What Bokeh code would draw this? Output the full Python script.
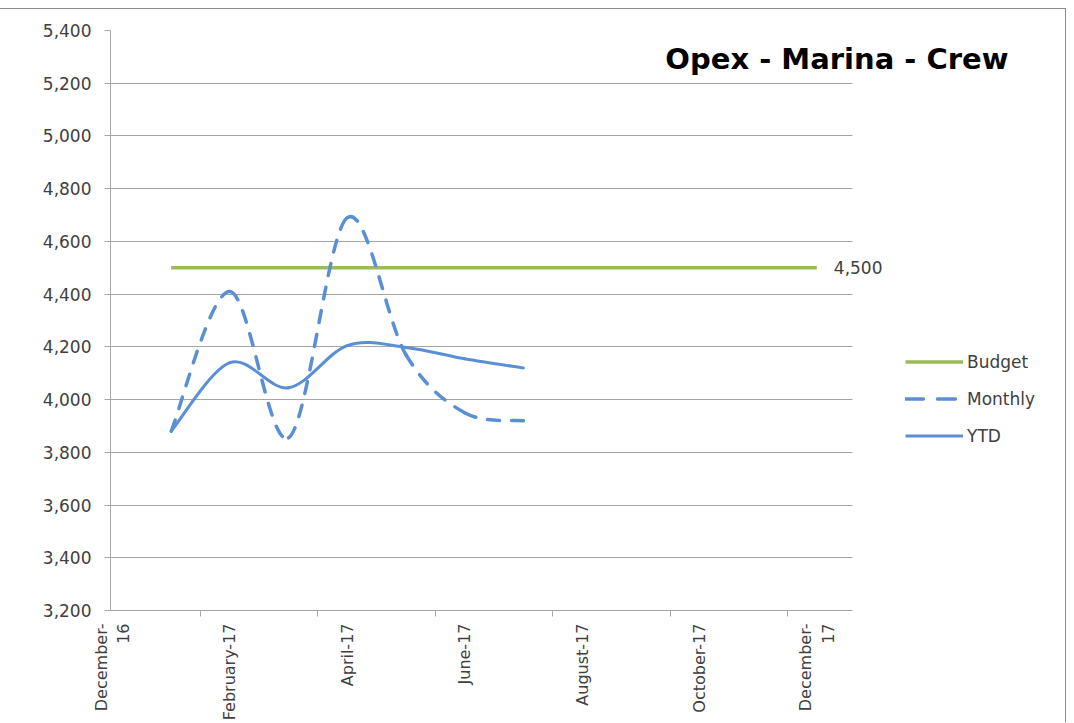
import math
from bokeh.plotting import figure
from bokeh.models import (FixedTicker, NumeralTickFormatter, Legend, LegendItem,
                          Label, ColumnDataSource, Range1d)
from bokeh.core.properties import value
from bokeh.embed import file_html
from bokeh.resources import INLINE

# ---------------- data ----------------
tick_pos = [0, 2, 4, 6, 8, 10, 12]
tick_labels = ["December-\n16", "February-17", "April-17", "June-17",
               "August-17", "October-17", "December-\n17"]
budget_x = [1, 2, 3, 4, 5, 6, 7, 8, 9, 10, 11, 12]          # Jan-17 .. Dec-17
budget = [4500] * 12
actual_x = [1, 2, 3, 4, 5, 6, 7]                            # Jan-17 .. Jul-17
monthly = [3880, 4410, 3855, 4690, 4170, 3950, 3920]
ytd = [3880, 4140, 4045, 4205, 4198, 4155, 4120]

FONT = "DejaVu Sans"
TXT = "#404040"
GRID = "#a6a6a6"
GREEN = "#9bbb59"
BLUE = "#5a8fd6"

X0, X_AXIS_END, X1 = -0.034, 12.61, 16.22


def smooth_source(xs, ys):
    """Excel-like smoothed line: cubic bezier control points (Catmull-Rom)."""
    n = len(xs)
    d = dict(x0=[], y0=[], x1=[], y1=[], cx0=[], cy0=[], cx1=[], cy1=[])
    for i in range(n - 1):
        xp, yp = (xs[i - 1], ys[i - 1]) if i > 0 else (xs[i], ys[i])
        xn, yn = (xs[i + 2], ys[i + 2]) if i + 2 < n else (xs[i + 1], ys[i + 1])
        d["x0"].append(xs[i]); d["y0"].append(ys[i])
        d["x1"].append(xs[i + 1]); d["y1"].append(ys[i + 1])
        d["cx0"].append(xs[i] + (xs[i + 1] - xp) / 6)
        d["cy0"].append(ys[i] + (ys[i + 1] - yp) / 6)
        d["cx1"].append(xs[i + 1] - (xn - xs[i]) / 6)
        d["cy1"].append(ys[i + 1] - (yn - ys[i]) / 6)
    return ColumnDataSource(d)


p = figure(width=1066, height=714, output_backend="svg", toolbar_location=None,
           x_range=Range1d(X0, X1), y_range=Range1d(3200, 5400),
           min_border_left=110, min_border_right=2, min_border_top=21,
           min_border_bottom=113)
p.outline_line_color = None
p.background_fill_color = "white"
p.border_fill_color = "white"
p.styles = {"margin-top": "8px",
            "border-top": "1px solid #8c8c8c", "border-right": "1px solid #8c8c8c"}

# y axis
p.yaxis.ticker = FixedTicker(ticks=list(range(3200, 5401, 200)))
p.yaxis.formatter = NumeralTickFormatter(format="0,0")
p.yaxis.axis_line_color = GRID
p.yaxis.major_tick_line_color = GRID
p.yaxis.major_tick_out = 6
p.yaxis.major_tick_in = 0
p.yaxis.minor_tick_line_color = None
p.yaxis.major_label_text_font = FONT
p.yaxis.major_label_text_font_size = "17px"
p.yaxis.major_label_text_color = TXT
p.yaxis.major_label_standoff = 13

# x axis
p.xaxis.bounds = (X0, X_AXIS_END)
p.xaxis.ticker = FixedTicker(ticks=tick_pos, minor_ticks=[1.5, 3.5, 5.5, 7.5, 9.5, 11.5])
p.xaxis.major_label_overrides = {t: l for t, l in zip(tick_pos, tick_labels)}
p.xaxis.major_label_orientation = math.pi / 2
p.xaxis.axis_line_color = GRID
p.xaxis.major_tick_line_color = None
p.xaxis.major_tick_out = 0
p.xaxis.major_tick_in = 0
p.xaxis.minor_tick_line_color = GRID
p.xaxis.minor_tick_out = 6
p.xaxis.minor_tick_in = 0
p.xaxis.major_label_text_font = FONT
p.xaxis.major_label_text_font_size = "16px"
p.xaxis.major_label_text_color = TXT
p.xaxis.major_label_standoff = 7

p.xgrid.grid_line_color = None
p.ygrid.grid_line_color = GRID
p.ygrid.grid_line_width = 1
p.ygrid.cross_bounds = (X0, X_AXIS_END)

# budget
budget_r = p.line(budget_x, budget, line_color=GREEN, line_width=3.5)
p.text(x=[budget_x[-1]], y=[budget[-1]], text=["{:,}".format(budget[-1])],
       x_offset=17, text_baseline="middle", text_align="left",
       text_font=value(FONT), text_font_size="17px", text_color=TXT)

# monthly (dashed, smoothed)
p.bezier(x0="x0", y0="y0", x1="x1", y1="y1", cx0="cx0", cy0="cy0", cx1="cx1", cy1="cy1",
         source=smooth_source(actual_x, monthly), line_color=BLUE, line_width=3.5,
         line_dash="12 12", line_cap="round")
# ytd (solid, smoothed)
p.bezier(x0="x0", y0="y0", x1="x1", y1="y1", cx0="cx0", cy0="cy0", cx1="cx1", cy1="cy1",
         source=smooth_source(actual_x, ytd), line_color=BLUE, line_width=3,
         line_cap="round")

# legend proxies (hidden renderers of the same series)
lm = p.line(actual_x, monthly, line_color=BLUE, line_width=3.5, line_dash="18 14",
            line_cap="round", visible=False)
ly = p.line(actual_x, ytd, line_color=BLUE, line_width=3, visible=False)
legend = Legend(items=[LegendItem(label="Budget", renderers=[budget_r]),
                       LegendItem(label="Monthly", renderers=[lm]),
                       LegendItem(label="YTD", renderers=[ly])],
                location=(795, 164), orientation="vertical",
                padding=0, margin=0, spacing=16, glyph_width=58, glyph_height=21,
                label_height=21, label_standoff=4, border_line_color=None,
                background_fill_alpha=0, inactive_fill_alpha=0,
                label_text_font=FONT, label_text_font_size="17px",
                label_text_color=TXT)
p.add_layout(legend)

# chart title
p.add_layout(Label(x=898, y=552, x_units="screen", y_units="screen",
                   text="Opex - Marina - Crew", text_align="right",
                   text_baseline="middle", text_font=FONT, text_font_style="bold",
                   text_font_size="29px", text_color="#000000"))

open("out.html", "w").write(file_html(p, INLINE))
